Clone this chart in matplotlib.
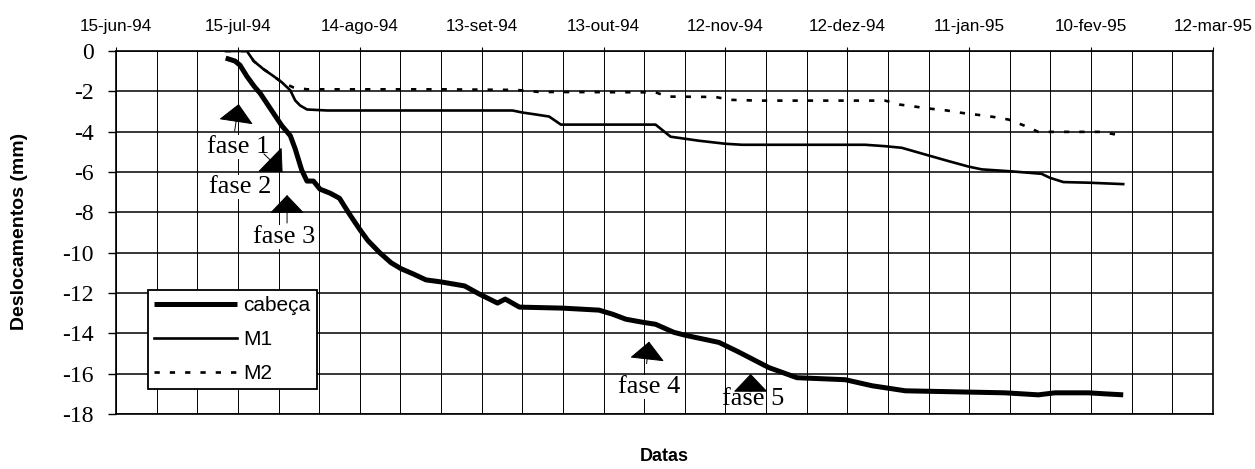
import numpy as np
import matplotlib
matplotlib.use("Agg")
import matplotlib.pyplot as plt
from matplotlib.patches import ArrowStyle

plt.rcParams['font.family'] = ['Liberation Sans', 'DejaVu Sans']
plt.rcParams['axes.unicode_minus'] = False

# ---------------- data (x = days since 15-jun-94, y = mm) ----------------
tick_days = [0, 30, 60, 90, 120, 150, 180, 210, 240, 270]
tick_dates = ["15-jun-94", "15-jul-94", "14-ago-94", "13-set-94", "13-out-94",
              "12-nov-94", "12-dez-94", "11-jan-95", "10-fev-95", "12-mar-95"]
y_ticks = [0, -2, -4, -6, -8, -10, -12, -14, -16, -18]
y_tick_labels = ["0", "-2", "-4", "-6", "-8", "-10", "-12", "-14", "-16", "-18"]

cabeca_days = [27.0, 29.3, 30.5, 32.2, 34.0, 35.5, 38.8, 40.8, 42.9, 44.1, 45.7, 47.0,
               48.6, 50.2, 52.7, 55.0, 57.5, 60.0, 62.0, 64.9, 67.7, 70.2, 73.1, 76.3,
               80.0, 82.9, 85.8, 89.4, 93.9, 95.8, 99.3, 109.9, 118.9, 122.2, 125.5,
               129.6, 132.8, 137.3, 140.2, 148.4, 153.0, 160.7, 167.6, 179.5, 186.1,
               194.3, 206.6, 218.8, 227.0, 231.1, 239.3, 243.4, 247.9]
cabeca_mm = [-0.35, -0.5, -0.7, -1.25, -1.75, -2.1, -3.1, -3.7, -4.2, -4.85, -5.9, -6.45,
             -6.45, -6.85, -7.05, -7.3, -8.1, -8.85, -9.4, -10.0, -10.5, -10.8, -11.05, -11.35,
             -11.45, -11.55, -11.65, -12.05, -12.5, -12.3, -12.7, -12.75, -12.85, -13.05, -13.3,
             -13.45, -13.55, -13.95, -14.1, -14.45, -14.9, -15.7, -16.2, -16.3, -16.6,
             -16.85, -16.9, -16.95, -17.05, -16.95, -16.95, -17.0, -17.05]

m1_days = [27.0, 32.2, 33.9, 36.3, 38.8, 40.8, 42.9, 44.1, 45.3, 47.0, 52.0, 97.6, 100.0,
           103.4, 106.6, 109.5, 132.8, 136.5, 143.5, 150.0, 154.1, 184.4, 189.3, 193.4,
           200.0, 204.9, 209.8, 213.1, 220.5, 227.8, 229.9, 233.2, 239.3, 247.9]
m1_mm = [0.0, 0.0, -0.5, -0.9, -1.25, -1.55, -1.95, -2.45, -2.7, -2.9, -2.95, -2.95, -3.05,
         -3.15, -3.25, -3.65, -3.65, -4.25, -4.45, -4.6, -4.65, -4.65, -4.72, -4.8,
         -5.18, -5.46, -5.73, -5.87, -5.97, -6.09, -6.29, -6.5, -6.53, -6.6]

m2_days = [27.0, 32.2, 33.9, 36.3, 38.8, 40.8, 43.6, 47.0, 80.0, 98.4, 101.7, 104.0, 132.8,
           135.7, 147.6, 150.9, 158.2, 189.3, 193.0, 196.7, 200.8, 204.5, 208.2, 212.3,
           216.0, 219.7, 223.3, 227.0, 242.6, 246.0]
m2_mm = [0.0, 0.0, -0.5, -0.9, -1.25, -1.55, -1.8, -1.9, -1.9, -1.93, -1.98, -2.03, -2.05,
         -2.26, -2.28, -2.42, -2.46, -2.46, -2.66, -2.76, -2.87, -2.95, -3.07, -3.17,
         -3.27, -3.4, -3.68, -4.01, -4.01, -4.14]

series_names = ["cabeça", "M1", "M2"]
phase_labels = ["fase 1", "fase 2", "fase 3", "fase 4", "fase 5"]

# ---------------- layout (annotation placement) ----------------
phase_tip = [(30.2, -2.63), (41.0, -6.0), (42.1, -7.14), (131.2, -14.41), (156.2, -16.01)]
phase_tail = [(29.2, -3.97), (36.4, -5.1), (42.1, -8.53), (130.6, -15.5), (156.2, -16.9)]
phase_text = [(30.0, -4.76), (30.5, -6.75), (41.5, -9.22), (131.2, -16.66), (156.9, -17.25)]
phase_bg = [True, True, True, True, False]

fig = plt.figure(figsize=(12.55, 4.69), dpi=100)
ax = fig.add_axes([116 / 1255, 1 - 414 / 469, (1213 - 116) / 1255, (414 - 51) / 469])

ax.plot(cabeca_days, cabeca_mm, color='black', lw=3.6, solid_capstyle='butt',
        solid_joinstyle='round', label=series_names[0], zorder=4)
ax.plot(m1_days, m1_mm, color='black', lw=1.9, solid_joinstyle='round',
        label=series_names[1], zorder=4)
ax.plot(m2_days, m2_mm, color='black', lw=1.9, dashes=(2.0, 3.8),
        label=series_names[2], zorder=3.9)

ax.set_xlim(0, 270)
ax.set_ylim(-18, 0)

# grid
ax.set_xticks(np.arange(0, 271, 10), minor=True)
ax.set_xticks(tick_days)
ax.set_xticklabels(tick_dates, fontsize=12.3)
ax.xaxis.tick_top()
ax.tick_params(axis='x', which='major', length=3, width=0.8, pad=9, colors='black')
ax.tick_params(axis='x', which='minor', length=0)
ax.set_yticks(y_ticks)
ax.set_yticklabels(y_tick_labels, fontsize=17, family=['Liberation Serif'])
ax.tick_params(axis='y', which='major', length=6, width=1.0, pad=10, direction='out')
ax.grid(True, axis='x', which='both', color='black', lw=0.7)
ax.grid(True, axis='y', which='major', color='black', lw=1.1)
ax.set_axisbelow(True)
for s in ax.spines.values():
    s.set_linewidth(1.2)
    s.set_color('black')

# phase arrows and labels
style = ArrowStyle('-|>', head_length=0.4, head_width=0.38)
for lab, tip, tail, tpos, bg in zip(phase_labels, phase_tip, phase_tail, phase_text, phase_bg):
    ax.annotate('', xy=tip, xytext=tail,
                arrowprops=dict(arrowstyle=style, mutation_scale=30, color='black',
                                lw=0.7, shrinkA=0, shrinkB=0), zorder=6)
    kw = {}
    if bg:
        kw['bbox'] = dict(facecolor='white', edgecolor='none', pad=0.5)
    ax.text(tpos[0], tpos[1], lab, ha='center', va='center', fontsize=19,
            family=['Liberation Serif'], zorder=5, **kw)

leg = ax.legend(loc='upper left', bbox_to_anchor=(0.0289, 0.3416), borderaxespad=0,
                fontsize=15, handlelength=4.0, handletextpad=0.3, labelspacing=0.72,
                borderpad=0.3, fancybox=False, framealpha=1, edgecolor='black')
leg.get_frame().set_linewidth(1.3)
leg.set_zorder(7)

fig.text(20 / 1255, 1 - 231 / 469, "Deslocamentos (mm)", rotation=90, ha='center',
         va='center', fontsize=14, fontweight='bold')
fig.text(664 / 1255, 1 - 456 / 469, "Datas", ha='center', va='center',
         fontsize=13, fontweight='bold')

fig.savefig("out.png", dpi=100)
